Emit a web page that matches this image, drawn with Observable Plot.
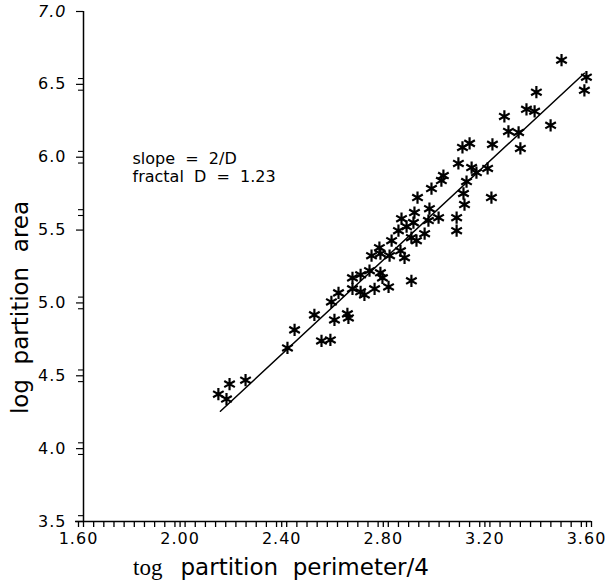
<!DOCTYPE html>
<html>
<head>
<meta charset="utf-8">
<script src="https://cdn.jsdelivr.net/npm/d3@7"></script>
<script src="https://cdn.jsdelivr.net/npm/@observablehq/plot@0.6"></script>
<style>
  html, body { margin: 0; padding: 0; background: #fff; }
  svg text { white-space: pre; }
  g[aria-label="x-axis tick label"] text, g[aria-label="y-axis tick label"] text { letter-spacing: 1px; }
</style>
</head>
<body>
<div id="chart"></div>
<script>
// log partition perimeter/4 (x) and log partition area (y)
const logPerimeter = [2.131,2.163,2.175,2.238,2.403,2.431,2.509,2.537,2.572,2.588,2.576,2.604,2.639,2.643,2.659,2.659,2.691,2.691,2.706,2.726,2.746,2.769,2.777,2.801,2.891,2.734,2.765,2.769,2.805,2.813,2.848,2.864,2.840,2.852,2.872,2.899,2.903,2.891,2.911,2.943,2.958,2.962,2.998,2.915,2.970,3.009,3.017,3.069,3.069,3.076,3.092,3.120,3.100,3.096,3.108,3.128,3.147,3.191,3.210,3.206,3.257,3.273,3.313,3.320,3.344,3.376,3.383,3.439,3.482,3.580,3.572];
const logArea = [4.374,4.340,4.443,4.470,4.691,4.815,4.918,4.739,4.746,4.883,5.007,5.069,4.925,4.897,5.097,5.172,5.193,5.076,5.055,5.221,5.097,5.207,5.172,5.110,5.152,5.324,5.379,5.338,5.324,5.427,5.358,5.310,5.496,5.578,5.523,5.551,5.620,5.448,5.427,5.475,5.565,5.647,5.585,5.723,5.785,5.840,5.874,5.585,5.496,5.957,6.067,6.095,5.675,5.751,5.833,5.929,5.895,5.923,6.088,5.723,6.280,6.177,6.170,6.060,6.329,6.315,6.446,6.219,6.666,6.549,6.459];

// fitted line (slope = 2/D, D = 1.23), endpoints
const fitX = [2.139, 3.572];
const fitY = [4.257, 6.576];

// axis ticks
const xTickLabels = [1.6, 2.0, 2.4, 2.8, 3.2, 3.6];
const xMinorTicks = d3.range(0, 51).map(i => +(1.6 + i * 0.04).toFixed(2));
const yTickLabels = [3.5, 4.0, 4.5, 5.0, 5.5, 6.0, 6.5];
const yTopLabel = [7.0];
const yMinorTicks = [3.54, 3.96, 4.04, 4.46, 4.54, 4.96, 5.04, 5.6, 5.64, 5.96, 6.04, 6.46, 6.54];

const annotation = ["slope  =  2/D\nfractal  D  =  1.23"];
const xLabelSerif = ["tog"];
const xLabelSans = ["partition  perimeter/4"];
const yLabel = ["log  partition  area"];

const points = logPerimeter.map((x, i) => ({x, y: logArea[i]}));
const fit = fitX.map((x, i) => ({x, y: fitY[i]}));

const W = 609, H = 587;
const mL = 83, mR = 18, mT = 11, mB = 66;

const chart = Plot.plot({
  width: W,
  height: H,
  marginLeft: mL,
  marginRight: mR,
  marginTop: mT,
  marginBottom: mB,
  style: {fontFamily: "DejaVu Sans", background: "#fff", color: "#000"},
  x: {domain: [1.6, 3.6], axis: null},
  y: {domain: [3.5, 7.0], axis: null},
  marks: [
    Plot.ruleY([3.5], {stroke: "#000", strokeWidth: 1.5, insetLeft: -8}),
    Plot.ruleX([1.6], {stroke: "#000", strokeWidth: 1.5}),
    Plot.axisX(xMinorTicks, {label: null, tickSize: 6, tickFormat: () => "", strokeWidth: 1.3, stroke: "#000"}),
    Plot.axisX(xTickLabels, {label: null, tickSize: 6, tickPadding: 5, tickFormat: d3.format(".2f"), fontSize: 16, dx: -5, strokeWidth: 1.3, stroke: "#000", fill: "#000"}),
    Plot.axisY(yMinorTicks, {label: null, tickSize: 5, tickFormat: () => "", strokeWidth: 1.1, stroke: "#000"}),
    Plot.axisY(yTickLabels, {label: null, tickSize: 7, tickPadding: 10, tickFormat: d3.format(".1f"), fontSize: 16, strokeWidth: 1.2, stroke: "#000", fill: "#000"}),
    Plot.axisY(yTopLabel, {label: null, tickSize: 7, tickPadding: 10, tickFormat: d3.format(".1f"), fontSize: 16, fontStyle: "italic", strokeWidth: 1.2, stroke: "#000", fill: "#000"}),
    Plot.line(fit, {x: "x", y: "y", stroke: "#000", strokeWidth: 1.5}),
    Plot.dot(points, {x: "x", y: "y", symbol: "asterisk", r: 5.8, stroke: "#000", strokeWidth: 2.2}),
    Plot.text(annotation, {frameAnchor: "top-left", textAnchor: "start", lineAnchor: "top", lineHeight: 1.12, dx: 49, dy: 140, fontSize: 16, fill: "#000"}),
    Plot.text(xLabelSerif, {frameAnchor: "bottom", textAnchor: "end", lineAnchor: "middle", dx: -175, dy: 46, fontSize: 23, fontFamily: "Liberation Serif", fill: "#000"}),
    Plot.text(xLabelSans, {frameAnchor: "bottom", textAnchor: "start", lineAnchor: "middle", dx: -157, dy: 46, fontSize: 23, fill: "#000"}),
    Plot.text(yLabel, {frameAnchor: "left", textAnchor: "middle", lineAnchor: "middle", rotate: -90, dx: -63, dy: 41, fontSize: 23, fill: "#000"})
  ]
});

document.getElementById("chart").appendChild(chart);
</script>
</body>
</html>
